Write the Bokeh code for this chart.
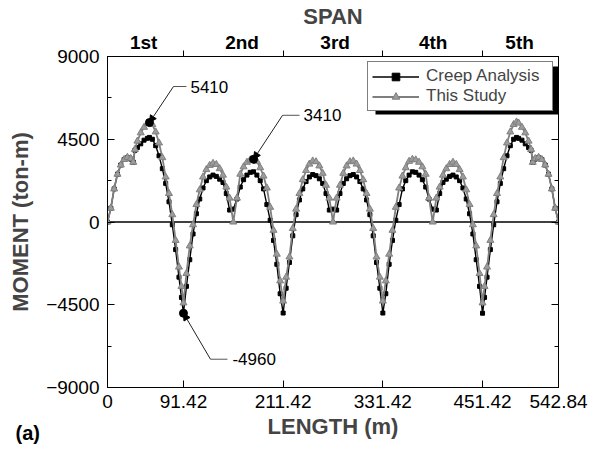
from bokeh.plotting import figure
from bokeh.models import (Range1d, LinearAxis, FixedTicker, Span, Label, Legend,
                          LegendItem, Arrow, NormalHead)
from bokeh.embed import file_html
from bokeh.resources import INLINE

# ---------------- data ----------------
SPAN1_X = [0, 4, 8, 12, 16, 20, 24, 28, 31, 33, 36, 40, 44, 48, 50.5, 54, 58, 62, 66,
           70, 74, 78, 82, 86, 89, 91.42]
SPAN1_STUDY = [0, 750, 1800, 2600, 3100, 3400, 3520, 3450, 3250, 3950, 4400, 4850, 5150,
               5350, 5410, 5300, 4900, 4300, 3500, 2450, 1550, 400, -1000, -2450, -3500, -4400]
SPAN1_CREEP = [0, 750, 1800, 2600, 3100, 3400, 3500, 3420, 3250, 3900, 4050, 4250, 4450,
               4550, 4600, 4500, 4150, 3600, 2900, 2100, 1100, -150, -1500, -3000, -4100, -4960]

SPAN2_X = [95.0, 99.0, 103.0, 107.0, 111.0, 115.0, 119.0, 123.0, 127.0, 131.0, 135.0, 139.0,
           143.0, 147.0, 151.42, 155.8, 159.8, 163.8, 167.8, 171.8, 175.8, 179.8, 183.8,
           187.8, 191.8, 195.8, 199.8, 203.8, 207.8, 211.42]
SPAN2_STUDY = [-2800, -1300, -150, 950, 1750, 2450, 2850, 3080, 3190, 3130, 2900, 2550, 1900,
               1300, 0, 1300, 2600, 3000, 3250, 3380, 3410, 3300, 2950, 2500, 1850, 800, -450,
               -1750, -3200, -4300]
SPAN2_CREEP = [-3500, -2050, -650, 450, 1250, 1850, 2250, 2450, 2550, 2480, 2330, 2150, 1550,
               650, 700, 1250, 1900, 2300, 2550, 2700, 2730, 2550, 2250, 1800, 950, 100, -1000,
               -2300, -3900, -4950]

SPAN3_X = [215.0, 219.0, 223.0, 227.0, 231.0, 235.0, 239.0, 243.0, 247.0, 251.0, 255.0, 259.0,
           263.0, 267.0, 271.42, 275.8, 279.8, 283.8, 287.8, 291.8, 295.8, 299.8, 303.8,
           307.8, 311.8, 315.8, 319.8, 323.8, 327.8, 331.42]
SPAN3_STUDY = [-3000, -1900, -350, 700, 1550, 2300, 2800, 3150, 3320, 3280, 3050, 2650, 2000,
               1300, 0, 1300, 2000, 2650, 3050, 3280, 3320, 3150, 2800, 2300, 1550, 700, -350,
               -1900, -3000, -4300]
SPAN3_CREEP = [-3600, -2200, -750, 400, 1200, 1800, 2200, 2450, 2580, 2520, 2350, 2100, 1550,
               650, 700, 650, 1550, 2100, 2350, 2520, 2580, 2450, 2200, 1800, 1200, 400, -750,
               -2200, -3600, -4950]

SPAN4_X = [335.0, 339.0, 343.0, 347.0, 351.0, 355.0, 359.0, 363.0, 367.0, 371.0, 375.0, 379.0,
           383.0, 387.0, 391.42, 395.8, 399.8, 403.8, 407.8, 411.8, 415.8, 419.8, 423.8,
           427.8, 431.8, 435.8, 439.8, 443.8, 447.8, 451.42]
SPAN4_STUDY = [-3200, -1750, -450, 800, 1850, 2500, 2950, 3300, 3410, 3380, 3250, 3000, 2600,
               1300, 0, 1300, 1900, 2550, 2900, 3130, 3250, 3130, 2850, 2450, 1750, 950, -150,
               -1300, -2800, -4400]
SPAN4_CREEP = [-3900, -2300, -1000, 100, 950, 1800, 2250, 2550, 2730, 2700, 2550, 2300, 1900,
               1250, 700, 650, 1550, 2150, 2330, 2480, 2550, 2450, 2250, 1850, 1250, 450, -650,
               -2050, -3500, -4960]

SPAN5_X = [453.84, 456.84, 460.84, 464.84, 468.84, 472.84, 476.84, 480.84, 484.84, 488.84,
           492.34, 494.84, 498.84, 502.84, 506.84, 509.84, 511.84, 514.84, 518.84, 522.84,
           526.84, 530.84, 534.84, 538.84, 542.84]
SPAN5_STUDY = [-3500, -2450, -1000, 400, 1550, 2450, 3500, 4300, 4900, 5300, 5440, 5380, 5150,
               4850, 4400, 3950, 3250, 3450, 3520, 3400, 3100, 2600, 1800, 750, 0]
SPAN5_CREEP = [-4100, -3000, -1500, -150, 1100, 2100, 2900, 3600, 4150, 4500, 4600, 4550, 4450,
               4250, 4050, 3900, 3250, 3420, 3500, 3400, 3100, 2600, 1800, 750, 0]

X_TICKS = [0, 91.42, 211.42, 331.42, 451.42, 542.84]
X_TICK_LABELS = ["0", "91.42", "211.42", "331.42", "451.42", "542.84"]
SPAN_BOUNDS = [91.42, 211.42, 331.42, 451.42]
SPAN_LABEL_POS = [43.5, 162.0, 274.0, 392.0, 496.0]
SPAN_NAMES = ["1st", "2nd", "3rd", "4th", "5th"]
Y_TICKS = [-9000, -4500, 0, 4500, 9000]
Y_MINOR = [-6750, -2250, 2250, 6750]
ANNOT_X = [50.5, 175.8, 91.42]
ANNOT_Y = [5410, 3410, -4960]
ANNOT_TEXT = ["5410", "3410", "-4960"]

LENGTH = SPAN1_X + SPAN2_X + SPAN3_X + SPAN4_X + SPAN5_X
STUDY = SPAN1_STUDY + SPAN2_STUDY + SPAN3_STUDY + SPAN4_STUDY + SPAN5_STUDY
CREEP = SPAN1_CREEP + SPAN2_CREEP + SPAN3_CREEP + SPAN4_CREEP + SPAN5_CREEP

# ---------------- layout ----------------
W, H = 599, 451
FL, FR, FT, FB = 107, 558, 56, 387
X0, X1, Y0, Y1 = 0.0, 542.84, -9000.0, 9000.0
SX = (FR - FL) / (X1 - X0)
SY = (FB - FT) / (Y1 - Y0)


def dx(px):
    return X0 + (px - FL) / SX


def dy(py):
    return Y1 - (py - FT) / SY


FONT = "Liberation Sans"

p = figure(width=W, height=H, output_backend="svg", toolbar_location=None,
           x_range=Range1d(X0, X1), y_range=Range1d(Y0, Y1),
           min_border_left=FL, min_border_right=W - FR,
           min_border_top=FT, min_border_bottom=H - FB,
           x_axis_location=None, y_axis_location=None)
p.background_fill_color = "white"
p.border_fill_color = "white"
p.outline_line_color = "black"
p.outline_line_width = 1
p.grid.visible = False

# bottom axis
xb = LinearAxis(ticker=FixedTicker(ticks=X_TICKS, minor_ticks=[]),
                major_label_overrides={t: l for t, l in zip(X_TICKS, X_TICK_LABELS)},
                axis_label="LENGTH (m)")
xb.major_tick_in = 7
xb.major_tick_out = 0
xb.minor_tick_in = 0
xb.minor_tick_out = 0
xb.major_label_standoff = 7
xb.major_label_text_font = FONT
xb.major_label_text_font_size = "19px"
xb.major_label_text_color = "black"
xb.axis_label_text_font = FONT
xb.axis_label_text_font_style = "bold"
xb.axis_label_text_font_size = "22px"
xb.axis_label_standoff = 3
p.add_layout(xb, "below")

# top span axis
xt = LinearAxis(ticker=FixedTicker(ticks=SPAN_LABEL_POS, minor_ticks=SPAN_BOUNDS),
                major_label_overrides={t: l for t, l in zip(SPAN_LABEL_POS, SPAN_NAMES)},
                axis_label="SPAN")
xt.major_tick_in = 0
xt.major_tick_out = 0
xt.minor_tick_in = 0
xt.minor_tick_out = 6
xt.major_label_standoff = -2
xt.major_label_text_font = FONT
xt.major_label_text_font_style = "bold"
xt.major_label_text_font_size = "19px"
xt.major_label_text_color = "black"
xt.axis_label_text_font = FONT
xt.axis_label_text_font_style = "bold"
xt.axis_label_text_font_size = "22px"
xt.axis_label_standoff = 0
p.add_layout(xt, "above")

# left axis
yl = LinearAxis(ticker=FixedTicker(ticks=Y_TICKS, minor_ticks=Y_MINOR),
                axis_label="MOMENT (ton-m)")
yl.major_tick_in = 7
yl.major_tick_out = 0
yl.minor_tick_in = 4
yl.minor_tick_out = 0
yl.major_label_standoff = 8
yl.major_label_text_font = FONT
yl.major_label_text_font_size = "19px"
yl.major_label_text_color = "black"
yl.axis_label_text_font = FONT
yl.axis_label_text_font_style = "bold"
yl.axis_label_text_font_size = "22px"
yl.axis_label_standoff = 10
p.add_layout(yl, "left")

# right axis (ticks only)
yr = LinearAxis(ticker=FixedTicker(ticks=Y_TICKS, minor_ticks=Y_MINOR),
                major_label_overrides={t: "" for t in Y_TICKS})
yr.major_tick_in = 7
yr.major_tick_out = 0
yr.minor_tick_in = 4
yr.minor_tick_out = 0
yr.major_label_standoff = 0
p.add_layout(yr, "right")

# zero line
p.add_layout(Span(location=0, dimension="width", line_color="black", line_width=1.3,
                  level="underlay"))

# legend shadow
p.quad(left=[dx(375)], right=[dx(560)], top=[dy(66)], bottom=[dy(114)],
       fill_color="black", line_color=None)

# series
l1 = p.line(LENGTH, CREEP, line_color="black", line_width=1.4)
s1 = p.scatter(LENGTH, CREEP, marker="square", size=4, fill_color="black",
               line_color="black")
l2 = p.line(LENGTH, STUDY, line_color="#7f7f7f", line_width=1.8)
s2 = p.scatter(LENGTH, STUDY, marker="triangle", size=7, fill_color="#9c9c9c",
               line_color="#808080", line_width=1)

legend = Legend(items=[LegendItem(label="Creep Analysis", renderers=[l1, s1]),
                       LegendItem(label="This Study", renderers=[l2, s2])],
                location="top_right", margin=5, padding=4, spacing=0,
                glyph_width=47, glyph_height=19, label_height=19, label_standoff=7,
                label_width=122,
                border_line_color="black", border_line_width=1,
                background_fill_color="white", background_fill_alpha=1.0,
                label_text_font=FONT, label_text_font_size="17px")
p.add_layout(legend)

# annotations with elbow leaders
OFFS = [(24, -36, 37, 41), (29, -44, 46, 50), (27, 46, 44, 49)]
for ax, ay, txt, (ex, ey, lx, tx) in zip(ANNOT_X, ANNOT_Y, ANNOT_TEXT, OFFS):
    px0 = FL + (ax - X0) * SX
    py0 = FT + (Y1 - ay) * SY
    p.add_layout(Arrow(end=NormalHead(size=7, fill_color="black", line_color="black"),
                       x_start=dx(px0 + ex), y_start=dy(py0 + ey), x_end=ax, y_end=ay,
                       line_color="#222222", line_width=1))
    p.segment(x0=[dx(px0 + ex)], y0=[dy(py0 + ey)], x1=[dx(px0 + lx)], y1=[dy(py0 + ey)],
              line_color="#555555", line_width=1)
    p.scatter([ax], [ay], marker="circle", size=8, fill_color="black", line_color="black")
    p.add_layout(Label(x=dx(px0 + tx), y=dy(py0 + ey), text=txt, text_font=FONT,
                       text_font_size="17px", text_baseline="middle", text_align="left",
                       text_color="black"))

# panel tag, placed in a side panel so it is not clipped to the frame
p.add_layout(Label(x=dx(15), y=dy(432), text="(a)", text_font=FONT,
                   text_font_style="bold", text_font_size="20px", text_align="left",
                   text_baseline="middle", text_color="black"), "right")

open("out.html", "w").write(file_html(p, INLINE))
